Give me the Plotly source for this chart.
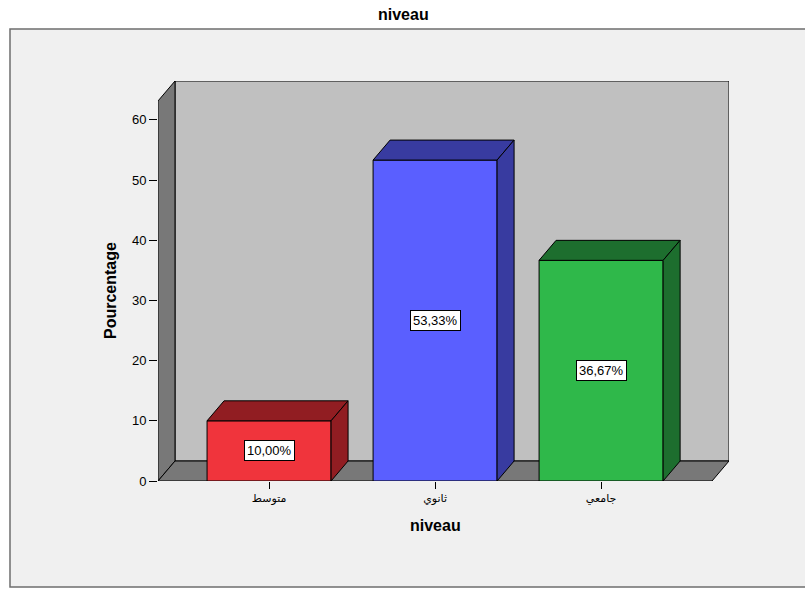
import plotly.graph_objects as go

# ---- data ----
categories = ['متوسط', 'ثانوي', 'جامعي']
percentages = [10.00, 53.33, 36.67]
bar_labels = ['10,00%', '53,33%', '36,67%']
y_ticks = [0, 10, 20, 30, 40, 50, 60]

front_colors = ['#f0343c', '#5a5fff', '#2fb84a']
dark_colors = ['#911d22', '#383ba0', '#1d6e2e']

# ---- 3D geometry (axis units) ----
X_MIN, X_FRONT_MAX = -0.669, 2.668
DX, DY = 0.1024, 3.32
WALL_TOP = 63.15
BAR_W = 0.747
X_MAX = X_FRONT_MAX + DX
Y_MAX = WALL_TOP + DY

W, H = 805, 590
ML, MR, MT, MB = 158, W - 729, 81, H - 481
PW, PH = W - ML - MR, H - MT - MB

def path(pts):
    return 'M ' + ' L '.join(f'{x},{y}' for x, y in pts) + ' Z'

def px_to_paper_x(px):
    return (px - ML) / PW
def py_to_paper_y(py):
    return (H - MB - py) / PH

shapes = []
# outer frame
shapes.append(dict(type='rect', xref='paper', yref='paper', layer='below',
                   x0=px_to_paper_x(10), x1=px_to_paper_x(808),
                   y0=py_to_paper_y(587), y1=py_to_paper_y(29),
                   fillcolor='#f0f0f0', line=dict(color='#6e6e6e', width=1.5)))
# back wall
shapes.append(dict(type='path', xref='x', yref='y', layer='below',
                   path=path([(X_MIN + DX, DY), (X_MIN + DX, Y_MAX), (X_MAX, Y_MAX), (X_MAX, DY)]),
                   fillcolor='#c0c0c0', line=dict(color='black', width=1)))
# side wall
shapes.append(dict(type='path', xref='x', yref='y', layer='below',
                   path=path([(X_MIN, 0), (X_MIN, WALL_TOP), (X_MIN + DX, Y_MAX), (X_MIN + DX, DY)]),
                   fillcolor='#787878', line=dict(color='black', width=1)))
# floor
shapes.append(dict(type='path', xref='x', yref='y', layer='below',
                   path=path([(X_MIN, 0), (X_MIN + DX, DY), (X_MAX, DY), (X_FRONT_MAX, 0)]),
                   fillcolor='#787878', line=dict(color='black', width=1)))

fig = go.Figure()
xs = list(range(len(categories)))
fig.add_trace(go.Bar(x=xs, y=percentages, width=BAR_W,
                     marker=dict(color=front_colors, line=dict(color='black', width=1)),
                     hoverinfo='skip', showlegend=False))

# bar top and side faces
for i, v in enumerate(percentages):
    l, r = i - BAR_W / 2, i + BAR_W / 2
    top = [(l, v), (l + DX, v + DY), (r + DX, v + DY), (r, v), (l, v)]
    side = [(r, 0), (r + DX, DY), (r + DX, v + DY), (r, v), (r, 0)]
    for pts in (top, side):
        fig.add_trace(go.Scatter(x=[p[0] for p in pts], y=[p[1] for p in pts],
                                 mode='lines', fill='toself', fillcolor=dark_colors[i],
                                 line=dict(color='black', width=1),
                                 hoverinfo='skip', showlegend=False))

FONT = 'Liberation Sans, Arial'
annotations = []
for i, v in enumerate(percentages):
    annotations.append(dict(x=i, y=v / 2, xref='x', yref='y', text=bar_labels[i],
                            xanchor='center', yanchor='middle',
                            showarrow=False, bgcolor='white', bordercolor='black',
                            borderwidth=1, borderpad=2,
                            font=dict(family=FONT, size=13, color='black')))
annotations.append(dict(x=1, y=py_to_paper_y(525), xref='x', yref='paper', text='<b>niveau</b>',
                        xanchor='center', yanchor='middle',
                        showarrow=False, font=dict(family=FONT, size=16, color='black')))
annotations.append(dict(x=px_to_paper_x(111), y=WALL_TOP / 2, xref='paper', yref='y',
                        xanchor='center', yanchor='middle',
                        text='<b>Pourcentage</b>', textangle=-90, showarrow=False,
                        font=dict(family=FONT, size=16, color='black')))
annotations.append(dict(x=px_to_paper_x(403), y=py_to_paper_y(14), xref='paper', yref='paper',
                        xanchor='center', yanchor='middle',
                        text='<b>niveau</b>', showarrow=False,
                        font=dict(family=FONT, size=16, color='black')))

fig.update_layout(
    width=W, height=H, margin=dict(l=ML, r=MR, t=MT, b=MB),
    paper_bgcolor='white', plot_bgcolor='rgba(0,0,0,0)',
    shapes=shapes, annotations=annotations, showlegend=False,
    xaxis=dict(range=[X_MIN, X_MAX], tickvals=xs, ticktext=categories,
               ticks='outside', ticklen=7, tickcolor='black', tickwidth=1,
               showline=False, showgrid=False, zeroline=False,
               tickfont=dict(family='DejaVu Sans', size=11, color='black')),
    yaxis=dict(range=[0, Y_MAX], tickvals=y_ticks, ticks='outside', ticklen=8,
               tickcolor='black', tickwidth=1, showline=False, showgrid=False,
               zeroline=False,
               tickfont=dict(family=FONT, size=13, color='black')),
)

fig.write_html('out.html')
